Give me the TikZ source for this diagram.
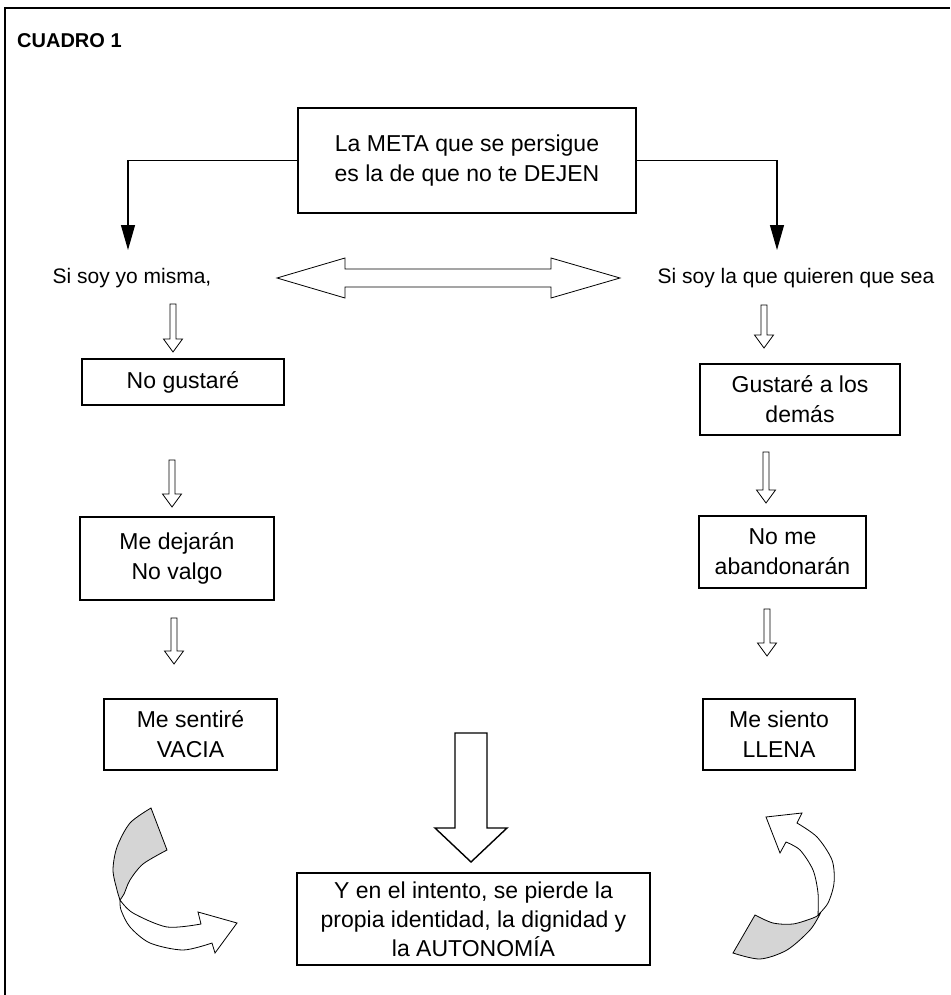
\documentclass[tikz,border=0pt]{standalone}
\usepackage{fontspec}
\setmainfont{Liberation Sans}
\usepackage{tikz}
\usetikzlibrary{shapes,arrows.meta,positioning}
\tikzstyle{caja} = [draw, rectangle, line width=1.6pt, align=center,
    inner sep=2pt, font=\fontsize{23}{30}\selectfont]
\tikzstyle{frase} = [inner sep=0pt, font=\fontsize{21}{26}\selectfont]
\tikzstyle{flecha} = [draw, line width=0.8pt, fill=white]
\tikzstyle{cinta} = [draw, line width=0.8pt, fill=gray!33]
\tikzstyle{punta} = [-{Triangle[length=25pt,width=14pt]}, line width=1.2pt]
% flecha hueca hacia abajo: x, y arriba, y punta
\newcommand{\flechabaja}[3]{%
  \draw[flecha] (#1-3,#2) -- (#1+3,#2) -- (#1+3,#3-13) -- (#1+9.5,#3-13)
    -- (#1,#3) -- (#1-9.5,#3-13) -- (#1-3,#3-13) -- cycle;}

\begin{document}
\begin{tikzpicture}[x=1pt, y=-1pt]
  \useasboundingbox (0,0) rectangle (950,995);
  \draw[line width=1.2pt] (5,995) -- (5,8) -- (950,8);
  \node[anchor=west, inner sep=0pt, font=\fontsize{20}{24}\selectfont\bfseries] (titulo) at (17,41) {CUADRO 1};

  \node[caja, minimum width=338pt, minimum height=105pt] (meta) at (467,160.5)
  {La META que se persigue\\es la de que no te DEJEN};
  \node[frase] (yomisma) at (132,278) {Si soy yo misma,};
  \node[frase] (quieren) at (796,278) {Si soy la que quieren que sea};
  \coordinate (ltip) at (128,250);
  \coordinate (rtip) at (777,250);
  \draw[punta] (meta.west) -| (ltip);
  \draw[punta] (meta.east) -| (rtip);
  \draw[flecha] (277,278) -- (345,258) -- (345,269) -- (551,269) -- (551,258)
    -- (620,278) -- (551,298) -- (551,287) -- (345,287) -- (345,298) -- cycle;

  % lado izquierdo
  \node[caja, minimum width=202pt, minimum height=46pt] (nogustare) at (183,382) {No gustaré};
  \node[caja, minimum width=194pt, minimum height=83pt] (dejaran) at (177,558.5)
  {Me dejarán\\No valgo};
  \node[caja, minimum width=173pt, minimum height=71pt] (vacia) at (190.5,734.5)
  {Me sentiré\\VACIA};
  \flechabaja{173}{304}{352}
  \flechabaja{172}{460}{507}
  \flechabaja{174}{618}{664}

  % lado derecho
  \node[caja, minimum width=200pt, minimum height=71pt] (gustare) at (800,399.5)
  {Gustaré a los\\demás};
  \node[caja, minimum width=167pt, minimum height=72pt] (abandonaran) at (782.5,552)
  {No me\\abandonarán};
  \node[caja, minimum width=152pt, minimum height=71pt] (llena) at (779,734.5)
  {Me siento\\LLENA};
  \flechabaja{764}{305}{348}
  \flechabaja{766}{452}{503}
  \flechabaja{767}{609}{656}

  % abajo
  \node[caja, minimum width=353pt, minimum height=92pt, font=\fontsize{23}{29}\selectfont] (identidad) at (473.5,919)
  {Y en el intento, se pierde la\\propia identidad, la dignidad y\\la AUTONOMÍA};
  \draw[flecha, line width=1.4pt] (455,733) -- (487,733) -- (487,828) -- (507,828)
    -- (471,862) -- (435,828) -- (455,828) -- cycle;

  % cintas curvas
  \draw[cinta] (151,808) -- plot[smooth] coordinates {(151,808) (130,823) (117,847) (113,870) (117,890) (120,900)}
    -- plot[smooth] coordinates {(120,900) (124,894) (130,880) (143,864) (167,850)} -- cycle;
  \draw[flecha] plot[smooth] coordinates {(120,900) (133,913) (167,927) (201,924)}
    -- (198,912) -- (237,923) -- (215,953) -- (212,943)
    -- plot[smooth] coordinates {(212,943) (183,950) (150,943) (130,927) (121,910) (120,900)} -- cycle;

  \draw[cinta] (755,915) -- (733,953)
    -- plot[smooth] coordinates {(733,953) (760,959) (787,950) (810,930) (820,914)}
    -- plot[smooth] coordinates {(820,914) (813,918) (793,924) (773,923) (755,915)} -- cycle;
  \draw[flecha] plot[smooth] coordinates {(818,915) (818,893) (813,870) (800,850) (786,842)}
    -- (780,853) -- (766,817) -- (802,813) -- (797,823)
    -- plot[smooth] coordinates {(797,823) (817,837) (832,860) (834,883) (828,903) (818,915)} -- cycle;
\end{tikzpicture}
\end{document}
